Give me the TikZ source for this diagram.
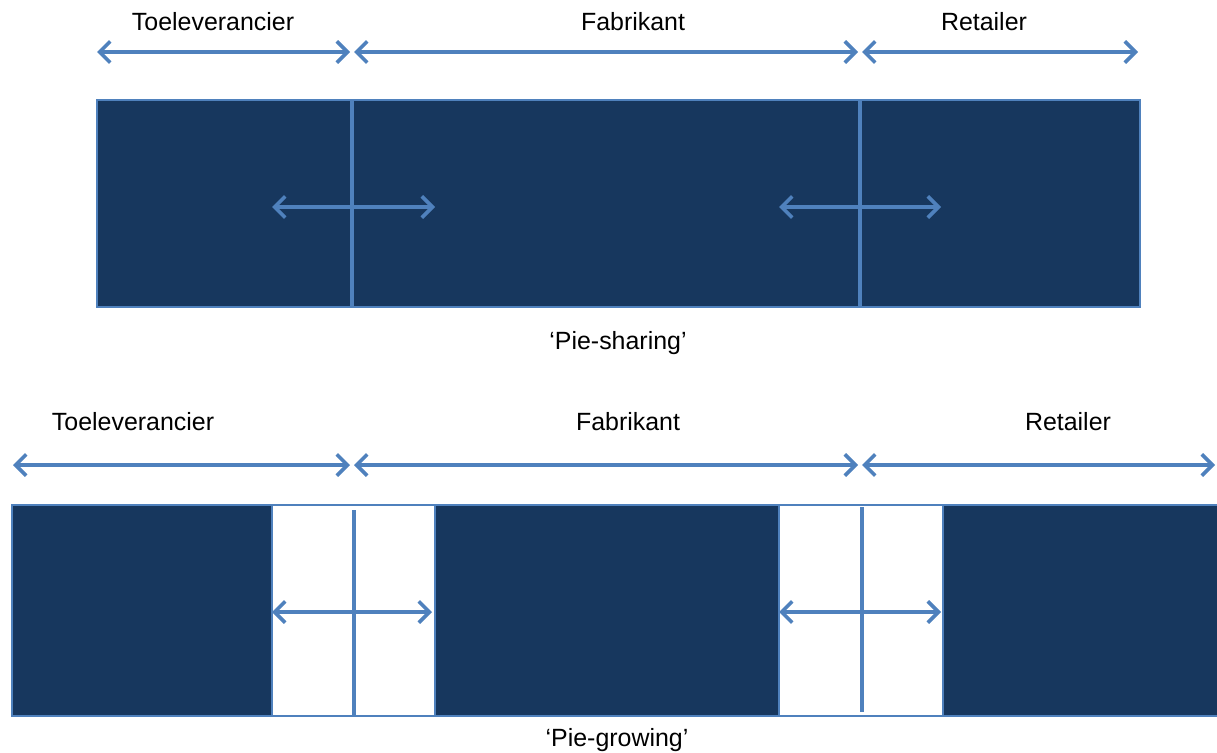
\documentclass[tikz,border=0pt]{standalone}
\usepackage{fontspec}
\setmainfont{Liberation Sans}
\usetikzlibrary{arrows.meta}
\definecolor{navy}{HTML}{17375E}
\definecolor{steel}{HTML}{4F81BD}
\begin{document}
\begin{tikzpicture}[x=0.75pt,y=-0.75pt,
  lbl/.style={font=\fontsize{18.7}{22}\selectfont, text=black, inner sep=0pt},
  span/.style={draw=steel, line width=2.7pt,
    {Straight Barb[length=8pt,width=16pt,line width=2.7pt]}-{Straight Barb[length=8pt,width=16pt,line width=2.7pt]}},
  divider/.style={draw=steel, line width=2.6pt},
  bar/.style={fill=navy, draw=steel, line width=1.1pt},
  gap/.style={fill=white, draw=steel, line width=1.1pt}]
\useasboundingbox (0,0) rectangle (1217,753);

% ---- Pie-sharing ----
\node[lbl] (t1) at (213,22) {Toeleverancier};
\node[lbl] (f1) at (633,22) {Fabrikant};
\node[lbl] (r1) at (984,22) {Retailer};
\coordinate (a1) at (97,52);
\coordinate (b1) at (350,52);
\coordinate (c1) at (354,52);
\coordinate (d1) at (858,52);
\coordinate (e1) at (862,52);
\coordinate (g1) at (1138,52);
\draw[span] (a1) -- (b1);
\draw[span] (c1) -- (d1);
\draw[span] (e1) -- (g1);

\path[bar] (97,100) rectangle (1140,307);
\coordinate (v1t) at (352,100); \coordinate (v1b) at (352,307);
\coordinate (v2t) at (860,100); \coordinate (v2b) at (860,307);
\draw[divider] (v1t) -- (v1b);
\draw[divider] (v2t) -- (v2b);
\coordinate (h1l) at (272,207); \coordinate (h1r) at (435,207);
\coordinate (h2l) at (779,207); \coordinate (h2r) at (941,207);
\draw[span] (h1l) -- (h1r);
\draw[span] (h2l) -- (h2r);
\node[lbl] (ps) at (618,343) {‘Pie-sharing’};

% ---- Pie-growing ----
\node[lbl] (t2) at (133,422) {Toeleverancier};
\node[lbl] (f2) at (628,422) {Fabrikant};
\node[lbl] (r2) at (1068,422) {Retailer};
\coordinate (a2) at (13,465);
\coordinate (b2) at (350,465);
\coordinate (c2) at (354,465);
\coordinate (d2) at (858,465);
\coordinate (e2) at (862,465);
\coordinate (g2) at (1215,465);
\draw[span] (a2) -- (b2);
\draw[span] (c2) -- (d2);
\draw[span] (e2) -- (g2);

\path[bar] (12,505) rectangle (1220,716);
\path[gap] (272,505) rectangle (435,716);
\path[gap] (779,505) rectangle (943,716);
\coordinate (w1t) at (354,510); \coordinate (w1b) at (354,716);
\coordinate (w2t) at (862,507); \coordinate (w2b) at (862,712);
\draw[divider] (w1t) -- (w1b);
\draw[divider] (w2t) -- (w2b);
\coordinate (k1l) at (272,612); \coordinate (k1r) at (432,612);
\coordinate (k2l) at (779,612); \coordinate (k2r) at (941,612);
\draw[span] (k1l) -- (k1r);
\draw[span] (k2l) -- (k2r);
\node[lbl] (pg) at (617,740) {‘Pie-growing’};
\end{tikzpicture}
\end{document}
